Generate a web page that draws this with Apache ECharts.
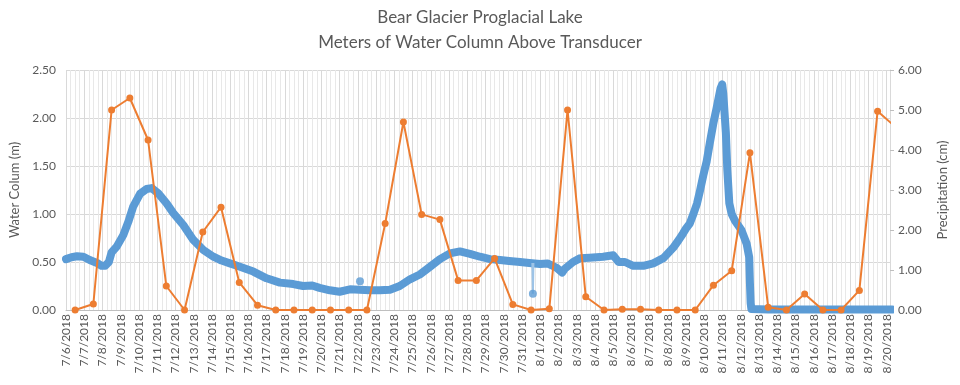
<!DOCTYPE html>
<html>
<head>
<meta charset="utf-8">
<script src="https://cdn.jsdelivr.net/npm/echarts@6/dist/echarts.min.js"></script>
<style>
html,body{margin:0;padding:0;background:#fff;}
#chart{width:960px;height:385px;}
</style>
</head>
<body>
<div id="chart"></div>
<script>
// Date tick labels (one per day, starting 7/6/2018 00:00 = day 0)
const dates = ['7/6/2018','7/7/2018','7/8/2018','7/9/2018','7/10/2018','7/11/2018','7/12/2018','7/13/2018','7/14/2018','7/15/2018','7/16/2018','7/17/2018','7/18/2018','7/19/2018','7/20/2018','7/21/2018','7/22/2018','7/23/2018','7/24/2018','7/25/2018','7/26/2018','7/27/2018','7/28/2018','7/29/2018','7/30/2018','7/31/2018','8/1/2018','8/2/2018','8/3/2018','8/4/2018','8/5/2018','8/6/2018','8/7/2018','8/8/2018','8/9/2018','8/10/2018','8/11/2018','8/12/2018','8/13/2018','8/14/2018','8/15/2018','8/16/2018','8/17/2018','8/18/2018','8/19/2018','8/20/2018'];

// Daily precipitation (cm), recorded at midday of each date
const precip = [0, 0.15, 5.0, 5.3, 4.25, 0.6, 0, 1.95, 2.57, 0.69, 0.12, 0, 0, 0, 0, 0, 0, 2.16, 4.7, 2.39, 2.26, 0.74, 0.74, 1.29, 0.14, 0, 0.03, 5.0, 0.33, 0, 0.02, 0.02, 0, 0, 0, 0.62, 0.98, 3.93, 0.07, 0, 0.40, 0, 0, 0.49, 4.97, 4.57];

// Water column (m): time in days since 7/6/2018 00:00, and level
const blueDay = [0.0,0.3,0.6,0.95,1.3,1.7,1.95,2.15,2.35,2.5,2.78,3.14,3.42,3.69,4.06,4.42,4.7,5.06,5.52,5.88,6.43,6.98,7.53,8.08,8.53,8.99,9.54,10.27,11.0,11.73,12.46,13.0,13.5,13.9,14.47,15.0,15.57,16.1,16.67,17.2,17.76,18.3,18.86,19.4,19.96,20.5,21.05,21.6,22.15,22.7,23.25,23.8,24.3,24.9,25.4,26.0,26.4,26.9,27.2,27.35,27.8,28.2,28.7,29.45,30.0,30.3,30.65,31.1,31.65,32.2,32.75,33.3,33.6,33.84,34.0,34.2,34.4,34.6,34.76,34.94,35.13,35.3,35.5,35.67,35.89,35.98,36.04,36.18,36.26,36.37,36.5,36.68,37.04,37.32,37.46,37.5,37.54,37.58,38.5,39.5,40.5,41.5,42.5,43.5,44.5,45.3];
const blueLevel = [0.53,0.55,0.56,0.555,0.52,0.49,0.46,0.46,0.50,0.60,0.66,0.78,0.92,1.08,1.21,1.26,1.27,1.215,1.11,1.01,0.885,0.73,0.625,0.555,0.515,0.486,0.45,0.40,0.33,0.285,0.27,0.25,0.255,0.23,0.205,0.19,0.215,0.21,0.205,0.205,0.21,0.25,0.32,0.37,0.45,0.53,0.59,0.61,0.585,0.555,0.53,0.52,0.51,0.50,0.49,0.48,0.485,0.44,0.39,0.43,0.50,0.54,0.545,0.555,0.57,0.50,0.50,0.46,0.46,0.486,0.54,0.65,0.73,0.80,0.85,0.90,1.0,1.11,1.24,1.40,1.55,1.74,1.95,2.1,2.31,2.35,2.25,1.85,1.46,1.11,1.0,0.93,0.83,0.69,0.55,0.28,0.07,0.01,0.005,0.005,0.005,0.005,0.005,0.005,0.005,0.005];

// Isolated readings
const spikeDay = [25.57, 25.6, 25.63];
const spikeLevel = [0.49, 0.17, 0.49];
const outlierDay = [16.12];
const outlierLevel = [0.30];

const BLUE = '#5B9BD5', ORANGE = '#ED7D31', TXT = '#595959', GRID = '#d9d9d9';
const FONT = 'Lato, "Open Sans", sans-serif';

const zip = (a, b) => a.map((x, i) => [x, b[i]]);

const chart = echarts.init(document.getElementById('chart'), null, {renderer: 'canvas'});
chart.setOption({
  animation: false,
  backgroundColor: '#fff',
  textStyle: {fontFamily: FONT},
  title: [
    {text: 'Bear Glacier Proglacial Lake', left: 'center', top: 4,
     textStyle: {fontFamily: FONT, fontSize: 17, fontWeight: 'normal', color: TXT}},
    {text: 'Meters of Water Column Above Transducer', left: 'center', top: 29,
     textStyle: {fontFamily: FONT, fontSize: 17, fontWeight: 'normal', color: TXT}}
  ],
  grid: {left: 66, right: 70, top: 70, bottom: 75, containLabel: false},
  xAxis: {
    type: 'value', min: 0, max: 45.18, interval: 1,
    axisLine: {show: true, lineStyle: {color: '#bfbfbf'}},
    axisTick: {show: false},
    axisLabel: {
      rotate: 90, margin: 4, fontSize: 12, color: TXT, fontFamily: FONT,
      showMaxLabel: false,
      formatter: v => { const i = Math.round(v); return Math.abs(v - i) < 1e-6 && dates[i] ? dates[i] : ''; }
    },
    splitLine: {show: true, lineStyle: {color: GRID, width: 1}},
    minorTick: {show: false, splitNumber: 4},
    minorSplitLine: {show: true, lineStyle: {color: '#e8e8e8', width: 1}}
  },
  yAxis: [
    {
      type: 'value', min: 0, max: 2.5, interval: 0.5, position: 'left',
      name: 'Water Colum (m)', nameLocation: 'middle', nameGap: 41, nameRotate: 90,
      nameTextStyle: {fontFamily: FONT, fontSize: 13, color: TXT},
      axisLine: {show: false}, axisTick: {show: false},
      axisLabel: {fontSize: 12, color: TXT, fontFamily: FONT, margin: 10, formatter: v => v.toFixed(2)},
      splitLine: {show: true, lineStyle: {color: GRID}}
    },
    {
      type: 'value', min: 0, max: 6, interval: 1, position: 'right',
      name: 'Precipitation (cm)', nameLocation: 'middle', nameGap: 46, nameRotate: 90,
      nameTextStyle: {fontFamily: FONT, fontSize: 13, color: TXT},
      axisLine: {show: true, lineStyle: {color: GRID}},
      axisTick: {show: true, length: 4, lineStyle: {color: '#bfbfbf'}},
      axisLabel: {fontSize: 12, color: TXT, fontFamily: FONT, margin: 8, formatter: v => v.toFixed(2)},
      splitLine: {show: false}
    }
  ],
  series: [
    {
      type: 'line', yAxisIndex: 0, data: zip(blueDay, blueLevel),
      showSymbol: false, symbol: 'none',
      lineStyle: {color: BLUE, width: 8, cap: 'round', join: 'round'},
      z: 2
    },
    {
      type: 'line', yAxisIndex: 0, data: zip(spikeDay, spikeLevel),
      symbol: 'circle', symbolSize: 0,
      lineStyle: {color: '#9DC3E6', width: 2},
      z: 2
    },
    {
      type: 'scatter', yAxisIndex: 0,
      data: zip(outlierDay, outlierLevel).concat([[spikeDay[1], spikeLevel[1]]]),
      symbol: 'circle', symbolSize: 8, itemStyle: {color: BLUE},
      z: 3
    },
    {
      type: 'line', yAxisIndex: 1, data: precip.map((v, i) => [i + 0.5, v]),
      symbol: 'circle', symbolSize: 7, showAllSymbol: true,
      lineStyle: {color: ORANGE, width: 2},
      itemStyle: {color: ORANGE, borderWidth: 0},
      z: 4
    }
  ]
});
</script>
</body>
</html>
